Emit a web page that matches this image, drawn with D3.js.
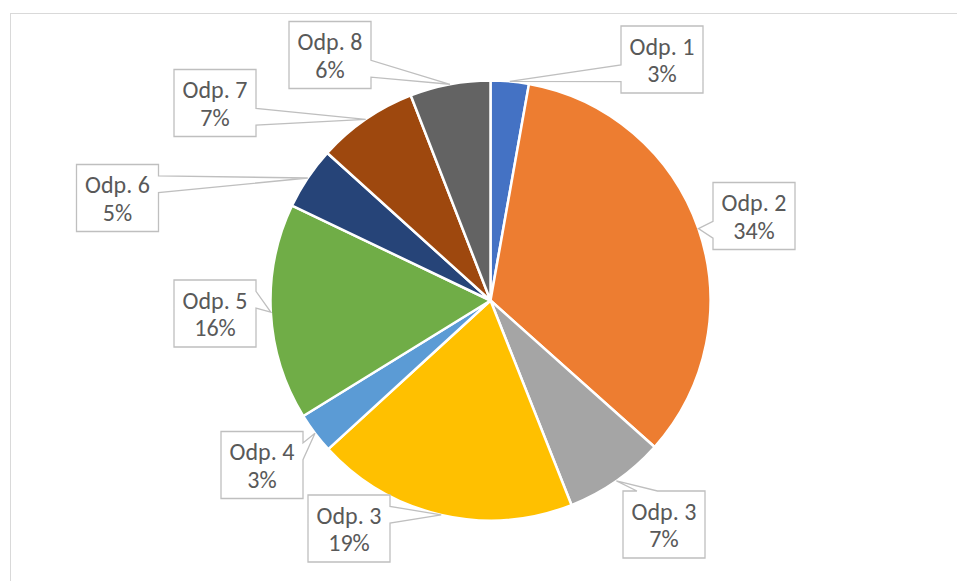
<!DOCTYPE html>
<html>
<head>
<meta charset="utf-8">
<script src="https://cdn.jsdelivr.net/npm/d3@7"></script>
<style>
  html, body { margin: 0; padding: 0; background: #fff; }
  svg { display: block; }
</style>
</head>
<body>
<div class="chart"></div>
<script>
// data
const categories = ['Odp. 1', 'Odp. 2', 'Odp. 3', 'Odp. 3', 'Odp. 4', 'Odp. 5', 'Odp. 6', 'Odp. 7', 'Odp. 8'];
const values = [2.8, 33.8, 7.4, 19.2, 3.0, 15.9, 4.6, 7.4, 5.9];
const colors = ['#4472C4', '#ED7D31', '#A5A5A5', '#FFC000', '#5B9BD5', '#70AD47', '#264478', '#9E480E', '#636363'];

// label box centres (layout)
const labelCentres = [
  [662, 59.5], [754, 216], [664, 524.5], [349, 528.5], [262, 465],
  [215, 313.5], [117.5, 198], [215, 103], [330, 55]
];

const width = 957;
const height = 581;
const cx = 490.5, cy = 300.5, radius = 220;
const boxW = 82, boxH = 67;

const svg = d3.select('.chart')
  .append('svg')
  .attr('width', width)
  .attr('height', height);

// chart area border
svg.append('rect')
  .attr('x', 10.5)
  .attr('y', 13.5)
  .attr('width', width + 20)
  .attr('height', height + 20)
  .attr('fill', 'none')
  .attr('stroke', '#d9d9d9')
  .attr('stroke-width', 1);

const pie = d3.pie().sort(null).value(d => d);
const arcs = pie(values);

const arc = d3.arc().innerRadius(0).outerRadius(radius);
const edge = d3.arc().innerRadius(radius).outerRadius(radius);

const g = svg.append('g').attr('transform', `translate(${cx},${cy})`);

g.selectAll('path')
  .data(arcs)
  .join('path')
  .attr('d', arc)
  .attr('fill', (d, i) => colors[i])
  .attr('stroke', '#fff')
  .attr('stroke-width', 2.5)
  .attr('stroke-linejoin', 'round');

// callout shape: box with a wedge pointing at the slice
function callout(bx, by, tx, ty) {
  const x0 = bx - boxW / 2, x1 = bx + boxW / 2;
  const y0 = by - boxH / 2, y1 = by + boxH / 2;
  const nx = Math.abs(tx - bx) / (boxW / 2);
  const ny = Math.abs(ty - by) / (boxH / 2);
  let side;
  if (nx >= ny) side = tx < bx ? 'left' : 'right';
  else side = ty < by ? 'top' : 'bottom';

  const slot = rel => rel < 0.5 ? [0.17, 0.42] : [0.58, 0.83];
  const pts = [];
  pts.push([x0, y0]);
  if (side === 'top') {
    const s = slot((tx - x0) / boxW);
    pts.push([x0 + s[0] * boxW, y0], [tx, ty], [x0 + s[1] * boxW, y0]);
  }
  pts.push([x1, y0]);
  if (side === 'right') {
    const s = slot((ty - y0) / boxH);
    pts.push([x1, y0 + s[0] * boxH], [tx, ty], [x1, y0 + s[1] * boxH]);
  }
  pts.push([x1, y1]);
  if (side === 'bottom') {
    const s = slot((tx - x0) / boxW);
    pts.push([x0 + s[1] * boxW, y1], [tx, ty], [x0 + s[0] * boxW, y1]);
  }
  pts.push([x0, y1]);
  if (side === 'left') {
    const s = slot((ty - y0) / boxH);
    pts.push([x0, y0 + s[1] * boxH], [tx, ty], [x0, y0 + s[0] * boxH]);
  }
  return 'M' + pts.map(p => p.join(',')).join('L') + 'Z';
}

const labels = svg.append('g');

arcs.forEach((d, i) => {
  const c = edge.centroid(d);
  const tx = cx + c[0], ty = cy + c[1];
  const [bx, by] = labelCentres[i];

  labels.append('path')
    .attr('d', callout(bx, by, tx, ty))
    .attr('fill', '#fff')
    .attr('stroke', '#bfbfbf')
    .attr('stroke-width', 1.3)
    .attr('stroke-linejoin', 'miter');

  const t = labels.append('text')
    .attr('text-anchor', 'middle')
    .attr('fill', '#595959')
    .style('font-family', 'Carlito, Calibri, Lato, sans-serif')
    .style('font-size', '24px');
  t.append('tspan').attr('x', bx).attr('y', by - 5).text(categories[i]);
  t.append('tspan').attr('x', bx).attr('y', by + 22.5).text(Math.round(values[i]) + '%');
});
</script>
</body>
</html>
